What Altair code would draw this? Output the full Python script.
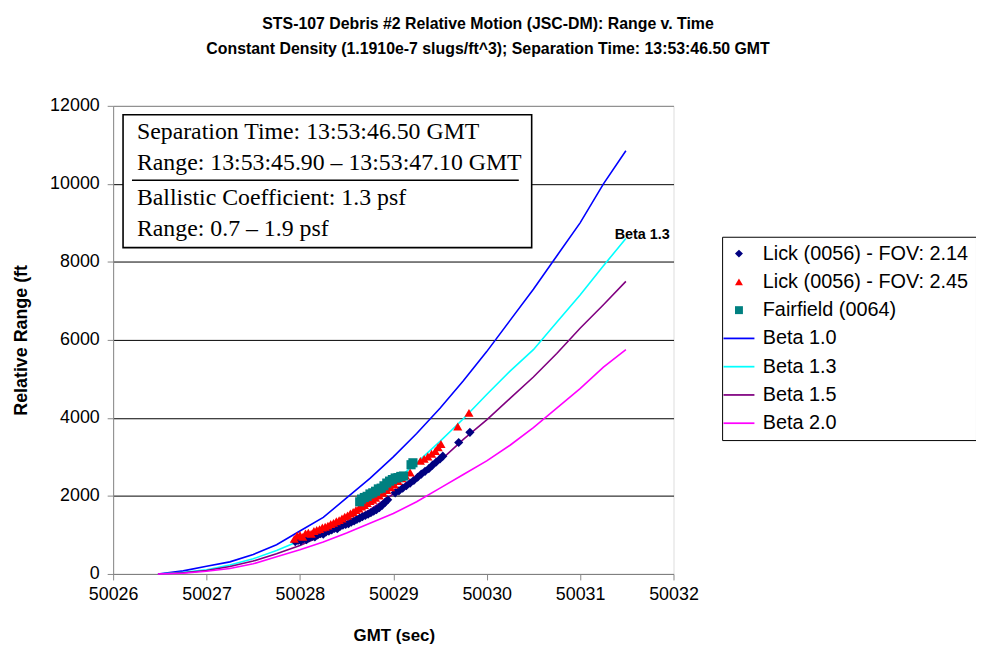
import altair as alt
import pandas as pd

# ---------------- data ----------------
series_names = ["Lick (0056) - FOV: 2.14", "Lick (0056) - FOV: 2.45", "Fairfield (0064)",
                "Beta 1.0", "Beta 1.3", "Beta 1.5", "Beta 2.0"]
series_colors = ["#000080", "#FF0000", "#008080", "#0000FF", "#00FFFF", "#800080", "#FF00FF"]

beta_x = [50026.48, 50026.75, 50027.0, 50027.25, 50027.5, 50027.75, 50028.0, 50028.25,
          50028.5, 50028.75, 50029.0, 50029.25, 50029.5, 50029.75, 50030.0, 50030.25,
          50030.5, 50030.75, 50031.0, 50031.25, 50031.49]
beta10_y = [0, 80, 200, 310, 500, 750, 1100, 1450, 1950, 2450, 3000, 3600, 4250, 4950,
            5700, 6500, 7300, 8150, 9000, 10000, 10850]
beta13_y = [0, 40, 110, 230, 390, 600, 850, 1150, 1500, 1900, 2350, 2850, 3400, 3980,
            4600, 5200, 5750, 6450, 7150, 7900, 8600]
beta15_y = [0, 30, 90, 190, 330, 520, 730, 990, 1300, 1650, 2050, 2450, 2900, 3450,
            3950, 4500, 5050, 5650, 6300, 6900, 7500]
beta20_y = [0, 20, 70, 140, 260, 440, 620, 820, 1050, 1300, 1550, 1850, 2200, 2550,
            2900, 3300, 3750, 4250, 4750, 5300, 5750]

lick214_x = [50027.95, 50027.98, 50028.01, 50028.04, 50028.07, 50028.10, 50028.13, 50028.16,
             50028.19, 50028.22, 50028.25, 50028.28, 50028.31, 50028.34, 50028.37, 50028.40,
             50028.43, 50028.46, 50028.49, 50028.52, 50028.55, 50028.58, 50028.61, 50028.64,
             50028.67, 50028.70, 50028.73, 50028.76, 50028.79, 50028.82, 50028.85, 50028.88,
             50028.91, 50028.94, 50029.02, 50029.06, 50029.10, 50029.14, 50029.18, 50029.22,
             50029.26, 50029.30, 50029.34, 50029.38, 50029.42, 50029.46, 50029.50, 50029.53,
             50029.70, 50029.82]
lick214_y = [830, 860, 850, 900, 880, 930, 960, 950, 1000, 1030, 1020, 1080, 1100, 1130,
             1170, 1160, 1220, 1250, 1270, 1290, 1330, 1360, 1400, 1430, 1470, 1500, 1530,
             1570, 1610, 1650, 1700, 1760, 1830, 1900, 2080, 2130, 2200, 2260, 2330, 2400,
             2480, 2560, 2630, 2700, 2790, 2870, 2950, 3020, 3370, 3630]

lick245_x = [50027.94, 50027.97, 50028.00, 50028.03, 50028.06, 50028.09, 50028.12, 50028.15,
             50028.18, 50028.21, 50028.24, 50028.27, 50028.30, 50028.33, 50028.36, 50028.39,
             50028.42, 50028.45, 50028.48, 50028.51, 50028.54, 50028.57, 50028.60, 50028.63,
             50028.66, 50028.69, 50028.72, 50028.75, 50028.78, 50028.81, 50028.85, 50028.89,
             50028.93, 50028.97, 50029.01, 50029.05, 50029.09, 50029.13, 50029.18, 50029.29,
             50029.33, 50029.37, 50029.41, 50029.45, 50029.48, 50029.51, 50029.69, 50029.81]
lick245_y = [900, 980, 1000, 950, 1040, 1060, 1030, 1100, 1130, 1150, 1190, 1210, 1240, 1280,
             1310, 1350, 1380, 1420, 1470, 1500, 1550, 1590, 1640, 1680, 1730, 1770, 1820,
             1870, 1900, 1950, 2010, 2080, 2150, 2220, 2290, 2380, 2450, 2520, 2600, 2900,
             2950, 3010, 3080, 3150, 3250, 3330, 3780, 4130]

fair_x = [50028.64, 50028.66, 50028.69, 50028.72, 50028.75, 50028.78, 50028.81, 50028.84,
          50028.87, 50028.90, 50028.93, 50028.96, 50028.99, 50029.02, 50029.05, 50029.08,
          50029.11, 50029.19, 50029.21]
fair_y = [1850, 1920, 1960, 1990, 2050, 2080, 2120, 2180, 2200, 2260, 2330, 2380, 2420,
          2460, 2470, 2500, 2510, 2800, 2850]

title_lines = ["STS-107 Debris #2 Relative Motion (JSC-DM): Range v. Time",
               "Constant Density (1.1910e-7 slugs/ft^3); Separation Time: 13:53:46.50 GMT"]
box_lines = ["Separation Time: 13:53:46.50 GMT",
             "Range: 13:53:45.90 \u2013 13:53:47.10 GMT",
             "Ballistic Coefficient: 1.3 psf",
             "Range: 0.7 \u2013 1.9 psf"]
curve_label = "Beta 1.3"
curve_label_x = [50031.37]
curve_label_y = [8700]

x_ticks = [50026, 50027, 50028, 50029, 50030, 50031, 50032]
y_ticks = [0, 2000, 4000, 6000, 8000, 10000, 12000]

# ---------------- tables ----------------
pts = pd.concat([
    pd.DataFrame({"x": lick214_x, "y": lick214_y, "series": series_names[0]}),
    pd.DataFrame({"x": lick245_x, "y": lick245_y, "series": series_names[1]}),
    pd.DataFrame({"x": fair_x, "y": fair_y, "series": series_names[2]}),
], ignore_index=True)

lines = pd.concat([
    pd.DataFrame({"x": beta_x, "y": ys, "series": nm})
    for nm, ys in zip(series_names[3:], [beta10_y, beta13_y, beta15_y, beta20_y])
], ignore_index=True)

SANS = "Liberation Sans"
SERIF = "Liberation Serif"
W, H = 565, 472

line_sym = "M-3.9,-0.22L3.9,-0.22L3.9,0.22L-3.9,0.22Z"
shape_range = ["diamond", "triangle-up", "square", line_sym, line_sym, line_sym, line_sym]

xscale = alt.Scale(domain=[50026, 50032], nice=False, zero=False)
yscale = alt.Scale(domain=[0, 12000], nice=False)
cscale = alt.Scale(domain=series_names, range=series_colors)
sscale = alt.Scale(domain=series_names, range=shape_range)

xaxis = alt.Axis(values=x_ticks, format="d", grid=False, title="GMT (sec)",
                 titleX=283, titleY=62, titleBaseline="middle", labelFlush=False,
                 labelFontSize=18, titleFontSize=17, labelPadding=6, tickSize=6)
yaxis = alt.Axis(values=y_ticks, format="d", grid=True, title="Relative Range (ft",
                 gridColor=alt.condition("datum.value == 12000", alt.value("#808080"), alt.value("black")),
                 titleX=-92, titleY=236, titleAngle=270, titleBaseline="middle", labelFlush=False,
                 labelFontSize=18, titleFontSize=18, labelPadding=8, tickSize=6)

legend = alt.Legend(title=None, orient="none", legendX=614, legendY=132,
                    strokeColor="black", fillColor="white", padding=7,
                    labelFontSize=20, labelFont=SANS, labelColor="black",
                    symbolSize=64, rowPadding=8.5, labelOffset=14, symbolStrokeWidth=0,
                    labelLimit=400)

line_layer = alt.Chart(lines).mark_line(strokeWidth=1.6).encode(
    x=alt.X("x:Q", scale=xscale, axis=xaxis),
    y=alt.Y("y:Q", scale=yscale, axis=yaxis),
    color=alt.Color("series:N", scale=cscale, legend=legend),
    detail="series:N",
)

pt_layer = alt.Chart(pts).mark_point(filled=True, opacity=1, size=85).encode(
    x="x:Q",
    y="y:Q",
    color=alt.Color("series:N", scale=cscale, legend=legend),
    shape=alt.Shape("series:N", scale=sscale, legend=legend),
)

label_layer = alt.Chart(pd.DataFrame({"x": curve_label_x, "y": curve_label_y,
                                      "t": [curve_label]})).mark_text(
    align="left", baseline="middle", fontSize=14.5, fontWeight="bold", font=SANS, color="black"
).encode(x="x:Q", y="y:Q", text="t:N")

one = pd.DataFrame({"a": [0]})

box = alt.Chart(one).mark_rect(
    fill="white", stroke="black", strokeWidth=1.6
).encode(x=alt.value(10), x2=alt.value(422), y=alt.value(9), y2=alt.value(143))

underline = alt.Chart(one).mark_rule(
    color="black", strokeWidth=1.6
).encode(x=alt.value(19), x2=alt.value(409), y=alt.value(75))

box_rows = [26, 58, 93, 124]
box_texts = [
    alt.Chart(one).mark_text(
        align="left", baseline="middle", font=SERIF, fontSize=24, color="black"
    ).encode(x=alt.value(24), y=alt.value(yy), text=alt.value(tt))
    for tt, yy in zip(box_lines, box_rows)
]

title_rows = [-82, -57]
title_texts = [
    alt.Chart(one).mark_text(
        align="center", baseline="middle", font=SANS, fontSize=16, fontWeight="bold", color="black"
    ).encode(x=alt.value(378), y=alt.value(yy), text=alt.value(tt))
    for tt, yy in zip(title_lines, title_rows)
]

chart = alt.layer(
    line_layer, pt_layer, label_layer, box, underline, *box_texts, *title_texts
).properties(
    width=W, height=H,
    autosize=alt.AutoSizeParams(type="none"),
    padding={"left": 106, "top": 96, "right": 305, "bottom": 72},
).configure_view(
    stroke="#808080", strokeWidth=2
).configure_axis(
    labelFont=SANS, titleFont=SANS, labelColor="black", titleColor="black",
    domainColor="black", domainWidth=1.6, tickColor="black", tickWidth=1.3,
    gridWidth=1.3, titleFontWeight="bold",
).configure(background="white")

chart.save("out.html", embed_options={"renderer": "svg", "actions": False})
